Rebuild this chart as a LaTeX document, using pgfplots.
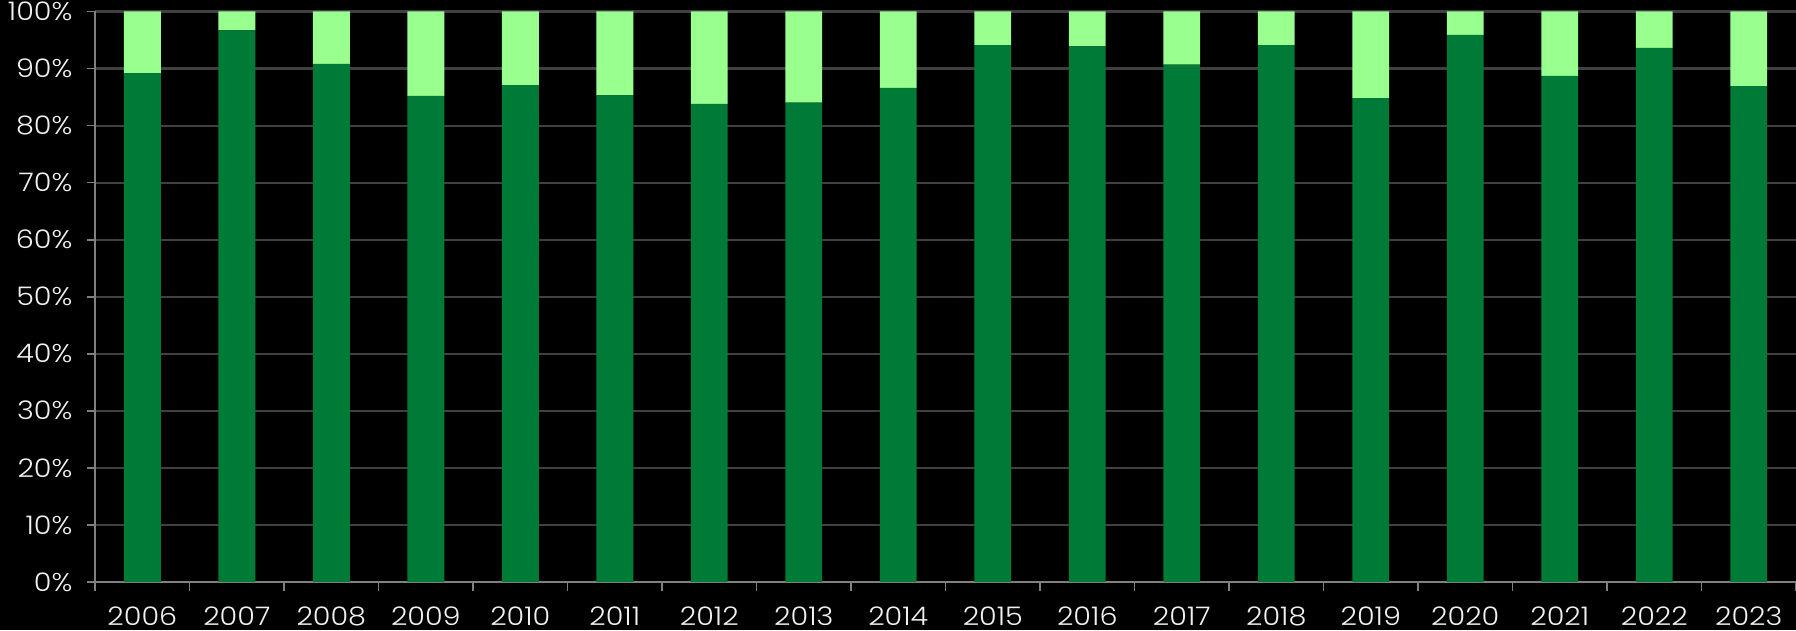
\documentclass[border=0pt]{standalone}
\usepackage{pgfplots}
\pgfplotsset{compat=1.18}
\usepackage{fontspec}
\setmainfont{Poppins}[UprightFont=* Light, FakeStretch=1.12]
\usetikzlibrary{backgrounds}
\definecolor{darkg}{RGB}{0,122,55}
\definecolor{lightg}{RGB}{153,255,143}
\definecolor{gridc}{RGB}{64,64,64}
\definecolor{axc}{RGB}{128,128,128}
\definecolor{txt}{RGB}{240,240,240}
\begin{document}
\begin{tikzpicture}[background rectangle/.style={fill=black}, show background rectangle, inner frame sep=0pt]
\begin{axis}[
  name=ax,
  scale only axis,
  width=170.47mm, height=57.17mm,
  ybar stacked, bar width=0.39,
  xmin=-0.5, xmax=17.5, ymin=0, ymax=100,
  xtick={0,...,17},
  xticklabels={2006,2007,2008,2009,2010,2011,2012,2013,2014,2015,2016,2017,2018,2019,2020,2021,2022,2023},
  minor xtick={-0.5,0.5,...,17.5},
  major x tick style={draw=none},
  minor x tick style={draw=axc, line width=0.5pt},
  minor tick length=0.9mm,
  ytick={0,10,...,100},
  yticklabels={0\%,10\%,20\%,30\%,40\%,50\%,60\%,70\%,80\%,90\%,100\%},
  major tick length=0.8mm,
  tick align=outside,
  ytick style={draw=axc, line width=0.5pt},
  axis x line*=bottom, axis y line*=left,
  axis line style={draw=axc, line width=0.6pt},
  ymajorgrids, grid style={draw=gridc, line width=0.6pt},
  tick label style={font=\fontsize{7.3}{8}\selectfont, text=txt, inner sep=0pt},
  x tick label style={yshift=-1.6mm},
  y tick label style={xshift=-1.4mm},
  every axis plot/.append style={draw=none},
]
\addplot[fill=darkg] coordinates {
(0,89.2) (1,96.7) (2,90.8) (3,85.2) (4,87.1) (5,85.3) (6,83.8) (7,84.0) (8,86.6)
(9,94.1) (10,93.9) (11,90.7) (12,94.1) (13,84.8) (14,95.9) (15,88.7) (16,93.6) (17,86.9)};
\addplot[fill=lightg] coordinates {
(0,10.8) (1,3.3) (2,9.2) (3,14.8) (4,12.9) (5,14.7) (6,16.2) (7,16.0) (8,13.4)
(9,5.9) (10,6.1) (11,9.3) (12,5.9) (13,15.2) (14,4.1) (15,11.3) (16,6.4) (17,13.1)};
\end{axis}
\pgfresetboundingbox
\path[use as bounding box] ([xshift=-9.53mm,yshift=-4.82mm]ax.south west) rectangle ([yshift=1.15mm]ax.north east);
\end{tikzpicture}
\end{document}
